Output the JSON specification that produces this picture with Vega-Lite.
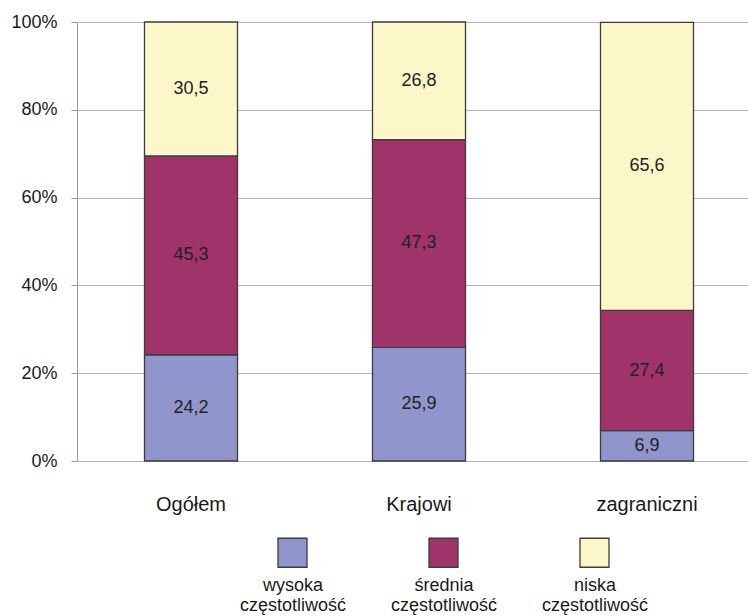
{
  "$schema": "https://vega.github.io/schema/vega-lite/v6.json",
  "autosize": "none",
  "width": 671,
  "height": 439,
  "padding": {"left": 77, "top": 22, "right": 0, "bottom": 155},
  "background": "white",
  "config": {
    "font": "Liberation Sans",
    "view": {"stroke": null},
    "locale": {"number": {"decimal": ",", "thousands": " ", "grouping": [3], "currency": ["", " zł"]}}
  },
  "data": {
    "values": [
      {"grupa": "Ogółem", "czestotliwosc": "wysoka częstotliwość", "ord": 1, "udzial": 24.2},
      {"grupa": "Ogółem", "czestotliwosc": "średnia częstotliwość", "ord": 2, "udzial": 45.3},
      {"grupa": "Ogółem", "czestotliwosc": "niska częstotliwość", "ord": 3, "udzial": 30.5},
      {"grupa": "Krajowi", "czestotliwosc": "wysoka częstotliwość", "ord": 1, "udzial": 25.9},
      {"grupa": "Krajowi", "czestotliwosc": "średnia częstotliwość", "ord": 2, "udzial": 47.3},
      {"grupa": "Krajowi", "czestotliwosc": "niska częstotliwość", "ord": 3, "udzial": 26.8},
      {"grupa": "zagraniczni", "czestotliwosc": "wysoka częstotliwość", "ord": 1, "udzial": 6.9},
      {"grupa": "zagraniczni", "czestotliwosc": "średnia częstotliwość", "ord": 2, "udzial": 27.4},
      {"grupa": "zagraniczni", "czestotliwosc": "niska częstotliwość", "ord": 3, "udzial": 65.6}
    ]
  },
  "transform": [
    {"stack": "udzial", "groupby": ["grupa"], "sort": [{"field": "ord", "order": "ascending"}], "as": ["y0", "y1"]},
    {"calculate": "(datum.y0 + datum.y1) / 2", "as": "ymid"}
  ],
  "encoding": {
    "x": {
      "field": "grupa",
      "type": "nominal",
      "sort": ["Ogółem", "Krajowi", "zagraniczni"],
      "scale": {"range": [0, 684], "paddingInner": 0.592, "paddingOuter": 0.296},
      "axis": {
        "title": null,
        "labelAngle": 0,
        "labelFontSize": 20,
        "labelColor": "#1a1a1a",
        "labelPadding": 33,
        "ticks": false,
        "domain": false
      }
    }
  },
  "layer": [
    {
      "mark": {"type": "bar", "stroke": "#3c3c3c", "strokeWidth": 1.3},
      "encoding": {
        "y": {
          "field": "y1",
          "type": "quantitative",
          "scale": {"domain": [0, 100]},
          "axis": {
            "title": null,
            "values": [0, 20, 40, 60, 80, 100],
            "labelExpr": "datum.value + '%'",
            "labelFontSize": 18,
            "labelColor": "#1a1a1a",
            "labelPadding": 14,
            "tickSize": 6,
            "tickColor": "#9a9a9a",
            "domainColor": "#9a9a9a",
            "gridColor": "#b4b4b4",
            "grid": true
          }
        },
        "y2": {"field": "y0"},
        "color": {
          "field": "czestotliwosc",
          "type": "nominal",
          "scale": {
            "domain": ["wysoka częstotliwość", "średnia częstotliwość", "niska częstotliwość"],
            "range": ["#9096cb", "#a03369", "#fbf7c9"]
          },
          "legend": {
            "title": null,
            "orient": "none",
            "legendX": 200,
            "legendY": 515,
            "direction": "horizontal",
            "symbolType": "square",
            "symbolSize": 841,
            "symbolStrokeColor": "#3c3c3c",
            "symbolStrokeWidth": 1.3,
            "symbolOpacity": 1,
            "labelFontSize": 18,
            "labelColor": "#1a1a1a",
            "labelAlign": "center",
            "labelBaseline": "top",
            "labelOffset": -15,
            "labelLimit": 200,
            "columnPadding": 43,
            "labelExpr": "split(datum.label, ' ')",
            "encode": {
              "labels": {"update": {"dy": {"value": 24}, "lineHeight": {"value": 20}}}
            }
          }
        }
      }
    },
    {
      "mark": {"type": "text", "fontSize": 18, "color": "#222222"},
      "encoding": {
        "y": {"field": "ymid", "type": "quantitative"},
        "text": {"field": "udzial", "type": "quantitative", "format": ".1f"}
      }
    }
  ]
}
